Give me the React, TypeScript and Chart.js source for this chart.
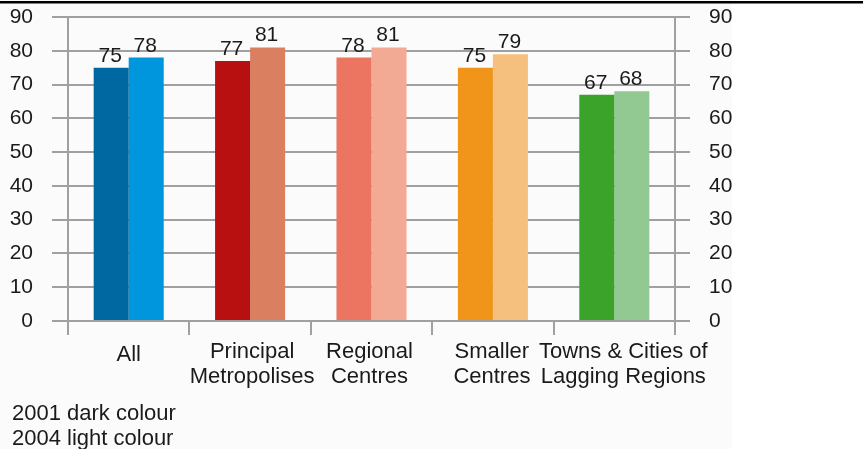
import React, { useEffect, useRef } from "react";
import { Chart, registerables } from "chart.js";

Chart.register(...registerables);

const categories: string[][] = [
  ["All"],
  ["Principal", "Metropolises"],
  ["Regional", "Centres"],
  ["Smaller", "Centres"],
  ["Towns & Cities of", "Lagging Regions"],
];
const values2001: number[] = [75, 77, 78, 75, 67];
const values2004: number[] = [78, 81, 81, 79, 68];
const colors2001: string[] = ["#0068a0", "#b81010", "#eb7560", "#f0941a", "#3ba22a"];
const colors2004: string[] = ["#0096de", "#da8060", "#f2aa95", "#f5c07e", "#92c993"];
const yTicksMin = 0;
const yTicksMax = 90;
const yTicksStep = 10;
const notes: string[] = ["2001 dark colour", "2004 light colour"];

// label nudges (px) to mimic the original's placement
const labelDx: number[] = [0, 2, -2, -1, 9];
const labelDy: number[] = [3, 0, 0, 0, 0];

const FONT = "'Liberation Sans', Arial, sans-serif";
const GRID = "#a0a0a0";
const TEXT = "#1a1a1a";

export default function App() {
  const ref = useRef<HTMLCanvasElement | null>(null);

  useEffect(() => {
    if (!ref.current) return;
    const extras = {
      id: "extras",
      beforeDraw(chart: any) {
        const ctx = chart.ctx;
        ctx.save();
        ctx.fillStyle = "#ffffff";
        ctx.fillRect(0, 0, chart.width, chart.height);
        ctx.fillStyle = "#fbfbfb";
        ctx.fillRect(0, 0, 732, chart.height);
        ctx.fillStyle = "#000000";
        ctx.fillRect(0, 1, chart.width, 2.5);
        ctx.restore();
      },
      afterDatasetsDraw(chart: any) {
        const ctx = chart.ctx;
        ctx.save();
        ctx.font = `21px ${FONT}`;
        ctx.fillStyle = TEXT;
        ctx.textAlign = "center";
        ctx.textBaseline = "alphabetic";
        chart.data.datasets.forEach((ds: any, di: number) => {
          const meta = chart.getDatasetMeta(di);
          meta.data.forEach((el: any, i: number) => {
            ctx.fillText(String(ds.data[i]), el.x - 1, el.y - 6);
          });
        });
        ctx.restore();
      },
      afterDraw(chart: any) {
        const ctx = chart.ctx;
        const xs = chart.scales.x;
        ctx.save();
        ctx.font = `22px ${FONT}`;
        ctx.fillStyle = TEXT;
        ctx.textAlign = "center";
        ctx.textBaseline = "middle";
        categories.forEach((lines, i) => {
          const cx = xs.getPixelForTick(i) + labelDx[i];
          lines.forEach((t, j) => {
            ctx.fillText(t, cx, chart.chartArea.bottom + 31 + labelDy[i] + j * 25);
          });
        });
        ctx.textAlign = "left";
        ctx.textBaseline = "alphabetic";
        notes.forEach((t, i) => ctx.fillText(t, 12, 420 + i * 25));
        ctx.restore();
      },
    };

    const tickFont = { family: FONT, size: 21 };
    const noPad = (s: any) => { s.paddingTop = 0; s.paddingBottom = 0; };
    const chart = new Chart(ref.current, {
      type: "bar",
      data: {
        labels: categories,
        datasets: [
          { label: "2001", data: values2001, backgroundColor: colors2001, borderWidth: 0 },
          { label: "2004", data: values2004, backgroundColor: colors2004, borderWidth: 0 },
        ],
      },
      options: {
        animation: false,
        responsive: false,
        devicePixelRatio: 1,
        layout: { autoPadding: false, padding: { top: 17, left: 0, right: 0, bottom: 0 } },
        datasets: { bar: { categoryPercentage: 0.577, barPercentage: 1 } },
        plugins: { legend: { display: false }, tooltip: { enabled: false }, title: { display: false } },
        scales: {
          x: {
            offset: true,
            grid: { offset: true, drawOnChartArea: false, drawTicks: true, tickLength: 14, color: GRID, lineWidth: 2 },
            border: { display: true, color: GRID, width: 2 },
            ticks: { display: false },
            afterFit: (s: any) => { s.height = 128; s.paddingLeft = 0; s.paddingRight = 0; },
          },
          y: {
            position: "left",
            min: yTicksMin,
            max: yTicksMax,
            ticks: { stepSize: yTicksStep, font: tickFont, color: TEXT, padding: 19 },
            grid: { color: GRID, lineWidth: 2, tickLength: 16, drawTicks: true },
            border: { display: true, color: GRID, width: 2 },
            afterFit: (s: any) => { s.width = 68; noPad(s); },
          },
          y2: {
            position: "right",
            min: yTicksMin,
            max: yTicksMax,
            ticks: { stepSize: yTicksStep, font: tickFont, color: TEXT, padding: 19 },
            grid: { drawOnChartArea: false, color: GRID, lineWidth: 2, tickLength: 15, drawTicks: true },
            border: { display: true, color: GRID, width: 2 },
            afterFit: (s: any) => { s.width = 188; noPad(s); },
          },
        },
      },
      plugins: [extras],
    } as any);
    return () => chart.destroy();
  }, []);

  return (
    <div style={{ position: "absolute", left: 0, top: 0, width: 863, height: 449 }}>
      <canvas ref={ref} width={863} height={449} style={{ display: "block", width: 863, height: 449 }} />
    </div>
  );
}
